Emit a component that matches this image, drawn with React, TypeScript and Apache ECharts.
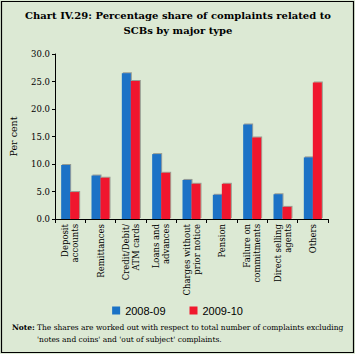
import React, { useEffect, useRef } from "react";
import * as echarts from "echarts";

const categories = [
  "Deposit\naccounts",
  "Remittances",
  "Credit/Debit/\nATM cards",
  "Loans and\nadvances",
  "Charges without\nprior notice",
  "Pension",
  "Failure on\ncommitments",
  "Direct selling\nagents",
  "Others",
];
const series2008 = [9.8, 7.9, 26.5, 11.8, 7.1, 4.4, 17.2, 4.5, 11.2];
const series2009 = [4.9, 7.5, 25.1, 8.4, 6.4, 6.4, 14.8, 2.2, 24.8];
const seriesNames = ["2008-09", "2009-10"];
const titleLines = [
  "Chart IV.29: Percentage share of complaints related to",
  "SCBs by major type",
];
const noteLines = [
  "The shares are worked out with respect to total number of complaints excluding",
  "'notes and coins' and 'out of subject' complaints.",
];

const BG = "#dce9d4";
const SERIF = "'DejaVu Serif', 'Liberation Serif', serif";

export default function App() {
  const ref = useRef<HTMLDivElement>(null);
  useEffect(() => {
    if (!ref.current) return;
    const chart = echarts.init(ref.current, undefined, { renderer: "svg" });
    chart.setOption({
      animation: false,
      backgroundColor: BG,
      grid: { left: 54, right: 27, top: 54, bottom: 135, containLabel: false },
      legend: {
        data: seriesNames,
        top: 300,
        left: "center",
        itemWidth: 8,
        itemHeight: 8,
        itemGap: 24,
        icon: "rect",
        textStyle: { fontFamily: "'Liberation Sans', Arial, sans-serif", fontSize: 11, color: "#000" },
      },
      xAxis: {
        type: "category",
        data: categories,
        axisLine: { lineStyle: { color: "#000", width: 1 } },
        axisTick: { show: true, alignWithLabel: false, length: 4, lineStyle: { color: "#000" } },
        axisLabel: {
          interval: 0,
          rotate: 90,
          fontFamily: SERIF,
          fontSize: 8.5,
          lineHeight: 10,
          color: "#000",
          margin: 5,
        },
      },
      yAxis: {
        type: "value",
        min: 0,
        max: 30,
        interval: 5,
        name: "Per cent",
        nameLocation: "middle",
        nameGap: 37,
        nameTextStyle: { fontFamily: SERIF, fontSize: 9.5, color: "#000" },
        axisLine: { show: true, lineStyle: { color: "#000", width: 1 } },
        axisTick: { show: true, length: 3, lineStyle: { color: "#000" } },
        splitLine: { show: false },
        axisLabel: {
          formatter: (v: number) => v.toFixed(1),
          fontFamily: SERIF,
          fontSize: 8.5,
          color: "#000",
          margin: 5,
        },
      },
      series: [
        {
          name: seriesNames[0],
          type: "bar",
          data: series2008,
          barWidth: 9,
          barGap: "0%",
          itemStyle: {
            color: "#1a72c6",
            shadowColor: "rgba(80,80,80,0.5)",
            shadowOffsetX: 1,
            shadowOffsetY: -1,
          },
        },
        {
          name: seriesNames[1],
          type: "bar",
          data: series2009,
          barWidth: 9,
          barGap: "0%",
          itemStyle: {
            color: "#f0192d",
            shadowColor: "rgba(80,80,80,0.5)",
            shadowOffsetX: 1,
            shadowOffsetY: -1,
          },
        },
      ],
      graphic: [
        {
          type: "rect",
          shape: { x: 1.5, y: 1.5, width: 352, height: 351 },
          style: { fill: "none", stroke: "#000", lineWidth: 1.2 },
          silent: true,
        },
        {
          type: "text",
          x: 178,
          y: 8,
          style: {
            text: titleLines.join("\n"),
            font: `bold 10px ${SERIF}`,
            fill: "#000",
            align: "center",
            verticalAlign: "top",
            lineHeight: 15,
          },
        },
        {
          type: "text",
          x: 12,
          y: 321,
          style: {
            text: "Note:",
            font: `bold 7.5px ${SERIF}`,
            fill: "#000",
            lineHeight: 12,
          },
        },
        {
          type: "text",
          x: 37,
          y: 321,
          style: {
            text: noteLines.join("\n"),
            font: `7.5px ${SERIF}`,
            fill: "#000",
            lineHeight: 12,
          },
        },
      ],
    });
    return () => chart.dispose();
  }, []);
  return <div ref={ref} style={{ width: 355, height: 354, position: "absolute", left: 0, top: 0 }} />;
}
